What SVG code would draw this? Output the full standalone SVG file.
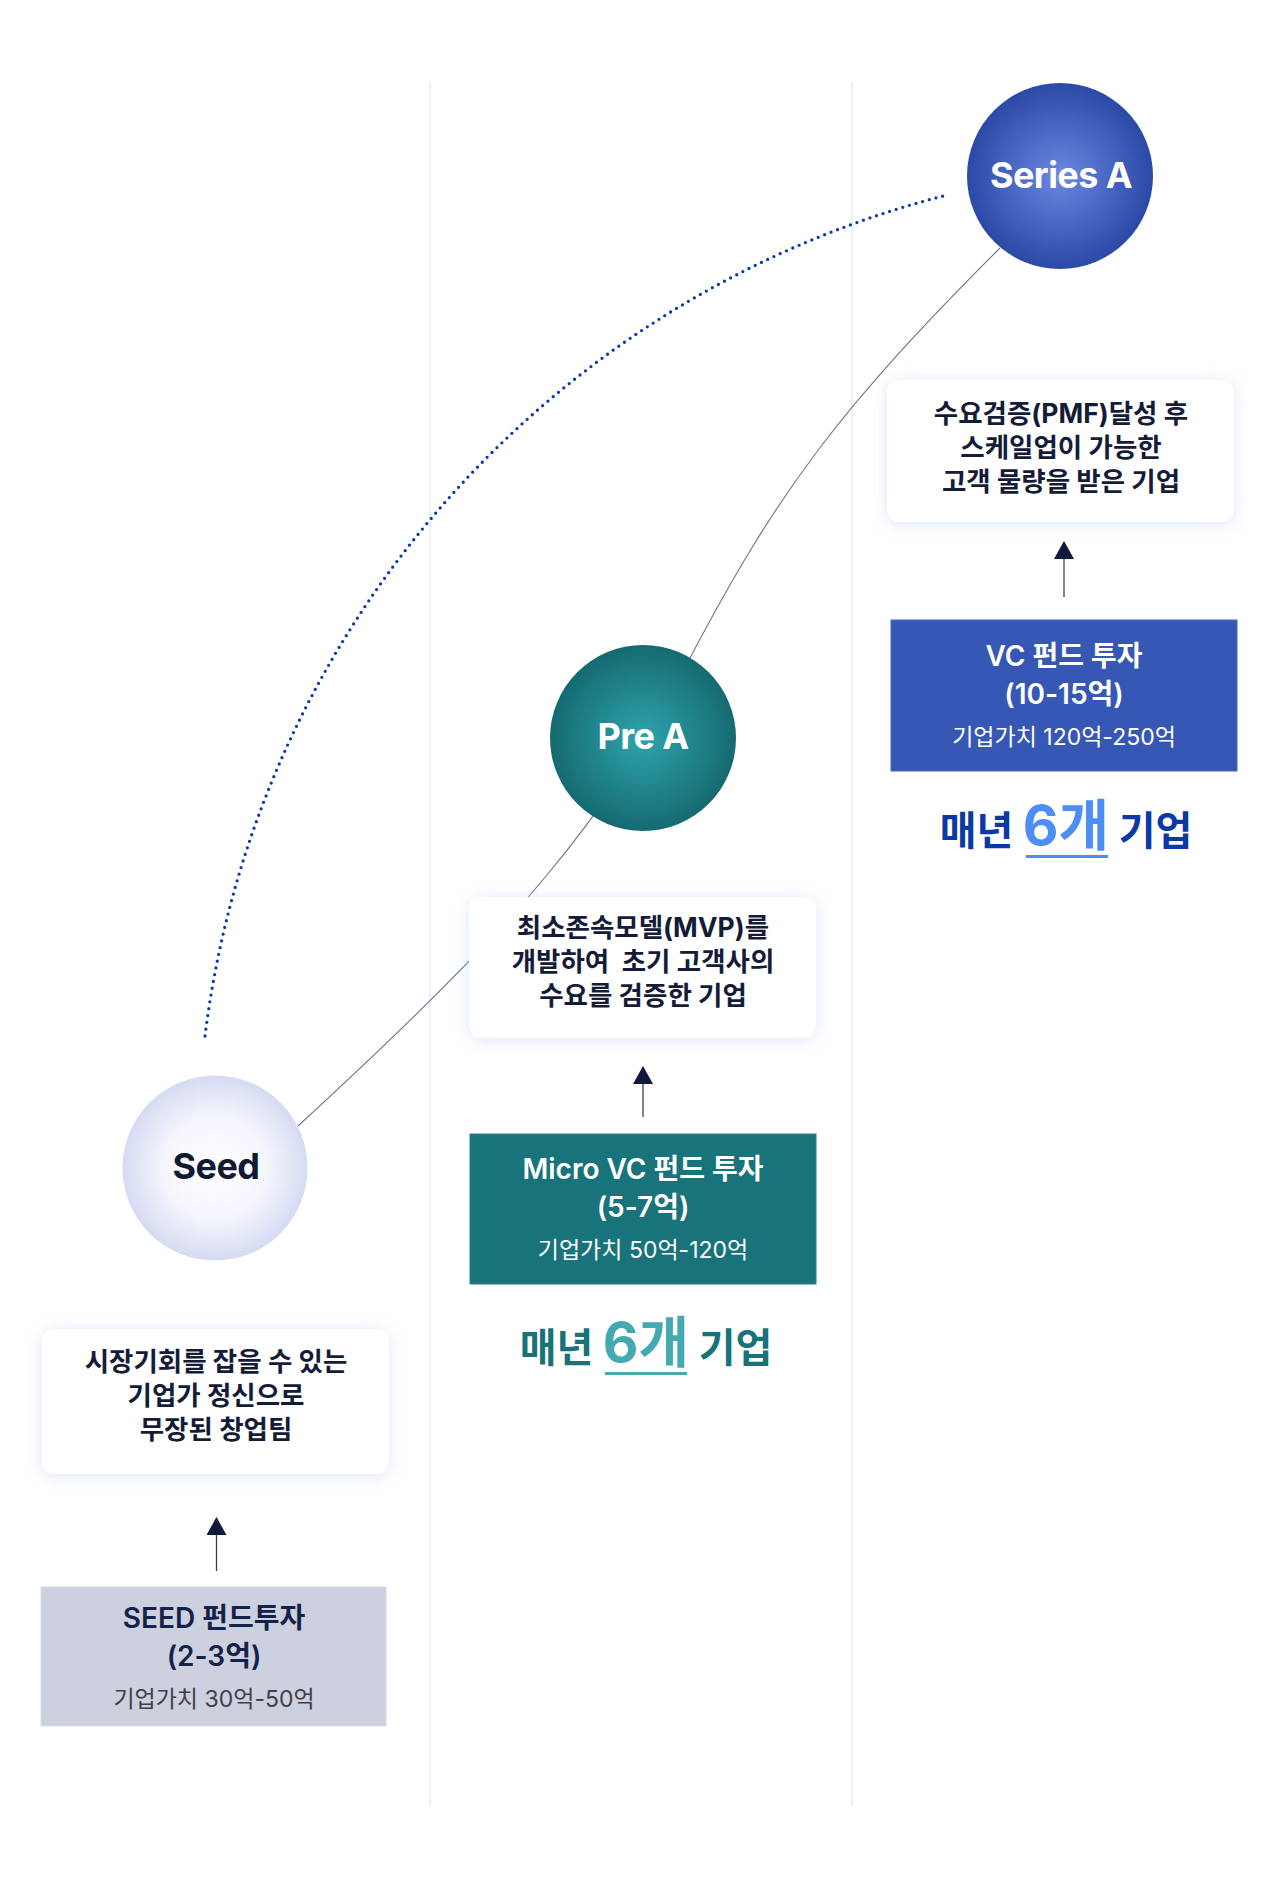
<svg xmlns="http://www.w3.org/2000/svg" width="1280" height="1884" viewBox="0 0 1280 1884">
<defs>
<style>
.divider{stroke:#e9ebf5;stroke-width:1.5;fill:none}
.curve{stroke:#6b7390;stroke-width:1.1;fill:none}
.dots{stroke:#0b3aa8;stroke-width:3.3;fill:none;stroke-linecap:round;stroke-dasharray:0 6.9}
.arrow{stroke:#3a3f4f;stroke-width:1.3;fill:none}
.card{fill:#ffffff;filter:url(#glow)}
.desc{font-family:Inter,"Noto Sans CJK KR",sans-serif;font-size:26.5px;font-weight:700;fill:#141c38;text-anchor:middle;letter-spacing:0px}
.fund1{font-family:Inter,"Noto Sans CJK KR",sans-serif;font-size:28px;font-weight:600;text-anchor:middle;letter-spacing:0px}
.fund2{font-family:Inter,"Noto Sans CJK KR",sans-serif;font-size:23px;font-weight:400;text-anchor:middle;letter-spacing:0px}
.stage{font-family:Inter,"Noto Sans CJK KR",sans-serif;font-size:36px;font-weight:700;text-anchor:middle;letter-spacing:-0.6px}
.count{font-family:Inter,"Noto Sans CJK KR",sans-serif;font-weight:700;text-anchor:middle;letter-spacing:0px}
</style>
<filter id="glow" x="-15%" y="-20%" width="130%" height="140%">
<feDropShadow dx="0" dy="2" stdDeviation="8" flood-color="#c3d0f4" flood-opacity="0.55"/>
</filter>
<radialGradient id="gA" cx="50%" cy="50%" r="50%">
<stop offset="0%" stop-color="#6b88e2"/>
<stop offset="100%" stop-color="#2a4aa6"/>
</radialGradient>
<radialGradient id="gP" cx="50%" cy="50%" r="50%">
<stop offset="0%" stop-color="#2ea4ad"/>
<stop offset="100%" stop-color="#166a71"/>
</radialGradient>
<radialGradient id="gS" cx="50%" cy="50%" r="50%">
<stop offset="0%" stop-color="#ffffff"/>
<stop offset="55%" stop-color="#f5f6fd"/>
<stop offset="100%" stop-color="#d5dbf2"/>
</radialGradient>
<marker id="head" markerUnits="userSpaceOnUse" markerWidth="18" markerHeight="20" viewBox="0 0 18 20" refX="17" refY="10" orient="auto">
<path d="M0,0 L18,10 L0,20 Z" fill="#0f1a3d"/>
</marker>
</defs>

<rect width="1280" height="1884" fill="#ffffff"/>

<g id="grid">
<line class="divider" x1="430" y1="82" x2="430" y2="1806"/>
<line class="divider" x1="852" y1="82" x2="852" y2="1806"/>
</g>

<g id="connectors">
<path class="curve" d="M298,1126 C524,918 602.5,824 690,658 C779,489 841,407 1000,248"/>
<path class="dots" d="M205,1036 A995,995 0 0 1 947,195"/>
<line class="arrow" x1="216.5" y1="1571" x2="216.5" y2="1518" marker-end="url(#head)"/>
<line class="arrow" x1="643" y1="1117" x2="643" y2="1067" marker-end="url(#head)"/>
<line class="arrow" x1="1064" y1="597" x2="1064" y2="542" marker-end="url(#head)"/>
</g>

<g id="node-seed">
<circle cx="215" cy="1168" r="92.5" fill="url(#gS)"/>
<text class="stage" x="216" y="1179" fill="#101a33">Seed</text>
</g>

<g id="node-prea">
<circle cx="643" cy="738" r="93" fill="url(#gP)"/>
<text class="stage" x="643" y="749" fill="#ffffff">Pre A</text>
</g>

<g id="node-seriesa">
<circle cx="1060" cy="176" r="93" fill="url(#gA)"/>
<text class="stage" x="1061" y="188" fill="#ffffff">Series A</text>
</g>

<g id="desc-seriesa">
<rect class="card" x="887" y="380" width="347" height="142" rx="12"/>
<text class="desc" x="1061" y="423">수요검증(PMF)달성 후</text>
<text class="desc" x="1061" y="457">스케일업이 가능한</text>
<text class="desc" x="1061" y="491">고객 물량을 받은 기업</text>
</g>

<g id="desc-prea">
<rect class="card" x="469" y="897" width="347" height="141" rx="12"/>
<text class="desc" x="643" y="937">최소존속모델(MVP)를</text>
<text class="desc" x="643" y="971" xml:space="preserve">개발하여  초기 고객사의</text>
<text class="desc" x="643" y="1005">수요를 검증한 기업</text>
</g>

<g id="desc-seed">
<rect class="card" x="42" y="1329" width="347" height="145" rx="12"/>
<text class="desc" x="216" y="1371">시장기회를 잡을 수 있는</text>
<text class="desc" x="216" y="1405">기업가 정신으로</text>
<text class="desc" x="216" y="1439">무장된 창업팀</text>
</g>

<g id="fund-seriesa">
<rect x="891" y="620" width="346" height="151" fill="#3658b4" stroke="#4466bf" stroke-width="1"/>
<text class="fund1" x="1064" y="666" fill="#ffffff">VC 펀드 투자</text>
<text class="fund1" x="1064" y="704" fill="#ffffff">(10-15억)</text>
<text class="fund2" x="1064" y="745" fill="#ffffff">기업가치 120억-250억</text>
</g>

<g id="fund-prea">
<rect x="470" y="1134" width="346" height="150" fill="#18737a" stroke="#2a8088" stroke-width="1"/>
<text class="fund1" x="643" y="1179" fill="#ffffff">Micro VC 펀드 투자</text>
<text class="fund1" x="643" y="1217" fill="#ffffff">(5-7억)</text>
<text class="fund2" x="643" y="1258" fill="#ffffff">기업가치 50억-120억</text>
</g>

<g id="fund-seed">
<rect x="41" y="1587" width="345" height="139" fill="#ccd0df" stroke="#d9dcea" stroke-width="1"/>
<text class="fund1" x="214" y="1628" fill="#14224a">SEED 펀드투자</text>
<text class="fund1" x="214" y="1666" fill="#14224a">(2-3억)</text>
<text class="fund2" x="214" y="1707" fill="#3f4048">기업가치 30억-50억</text>
</g>

<g id="count-seriesa">
<text class="count" x="1066" y="845" font-size="40" fill="#0b3aa6">매년 <tspan font-size="55" fill="#4d8ef5">6개</tspan> 기업</text>
<rect x="1026" y="855" width="82" height="3" fill="#4d8ef5"/>
</g>

<g id="count-prea">
<text class="count" x="646" y="1362" font-size="40" fill="#17727a">매년 <tspan font-size="55" fill="#45a9b2">6개</tspan> 기업</text>
<rect x="605" y="1372" width="82" height="3" fill="#45a9b2"/>
</g>
</svg>
